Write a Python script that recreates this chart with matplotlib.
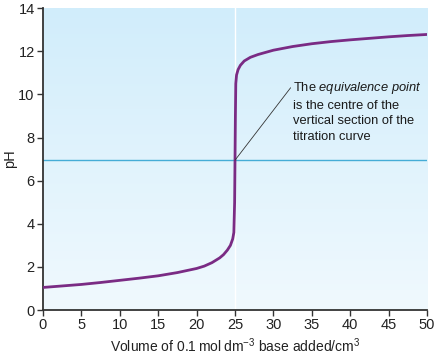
import numpy as np
import matplotlib.pyplot as plt

plt.rcParams['font.family'] = ['Liberation Sans', 'DejaVu Sans']
plt.rcParams['mathtext.fontset'] = 'custom'
plt.rcParams['mathtext.rm'] = 'Liberation Sans'
plt.rcParams['mathtext.it'] = 'Liberation Sans:italic'

# titration curve
volume = [0, 2.5, 5, 7.5, 10, 12.5, 15, 17.5, 20, 21, 22, 23, 23.5, 24, 24.4, 24.7, 24.85,
          24.95, 25.0, 25.05, 25.1, 25.2, 25.4, 25.7, 26.2, 27, 28, 30, 32.5, 35, 37.5,
          40, 42.5, 45, 47.5, 50]
ph = [1.05, 1.12, 1.19, 1.28, 1.38, 1.48, 1.59, 1.74, 1.93, 2.04, 2.2, 2.42, 2.57, 2.78,
      3.0, 3.3, 3.6, 5.0, 6.95, 9.0, 10.5, 10.9, 11.15, 11.35, 11.55, 11.72, 11.85, 12.05,
      12.22, 12.35, 12.45, 12.53, 12.6, 12.67, 12.73, 12.78]
equiv_v = 25
equiv_ph = 6.95
note = "The $\\it{equivalence\\ point}$\nis the centre of the\nvertical section of the\ntitration curve"

fig = plt.figure(figsize=(4.34, 3.54), dpi=100)
ax = fig.add_axes([0.099, 0.124, 0.885, 0.853])

# background gradient
grad = np.linspace(0, 1, 256).reshape(-1, 1)
cmap = plt.matplotlib.colors.LinearSegmentedColormap.from_list('bg', ['#f0f9fe', '#d1edfb'])
ax.imshow(grad, extent=[0, 50, 0, 14], origin='lower', aspect='auto', cmap=cmap, zorder=0)

ax.axvline(equiv_v, color='white', lw=1.0, zorder=1)
ax.axhline(equiv_ph, color='#45acd6', lw=1.0, zorder=1)
ax.plot(volume, ph, color='#7a2b84', lw=2.0, zorder=3, solid_capstyle='round')

ax.annotate(note, xy=(equiv_v, equiv_ph), xytext=(32.6, 10.65), fontsize=9.3,
            va='top', ha='left', linespacing=1.38, color='#1a1a1a',
            arrowprops=dict(arrowstyle='-', color='#333333', lw=0.6,
                            shrinkA=0, shrinkB=0, relpos=(0, 0.94)), zorder=4)

ax.set_xlim(0, 50)
ax.set_ylim(0, 14)
ax.set_xticks(range(0, 51, 5))
ax.set_yticks(range(0, 15, 2))
for s in ['top', 'right']:
    ax.spines[s].set_visible(False)
for s in ['left', 'bottom']:
    ax.spines[s].set_color('#333333')
    ax.spines[s].set_linewidth(1.3)
ax.tick_params(direction='out', length=4, width=1, color='#333333', labelsize=10.5,
               labelcolor='#222222', pad=2)
ax.set_xlabel('Volume of 0.1\u2009mol\u2009dm$^{-3}$ base added/cm$^3$', fontsize=10,
              color='#222222', labelpad=3)
ax.set_ylabel('pH', fontsize=10.5, color='#222222', labelpad=1)

fig.savefig('out.png', dpi=100)
